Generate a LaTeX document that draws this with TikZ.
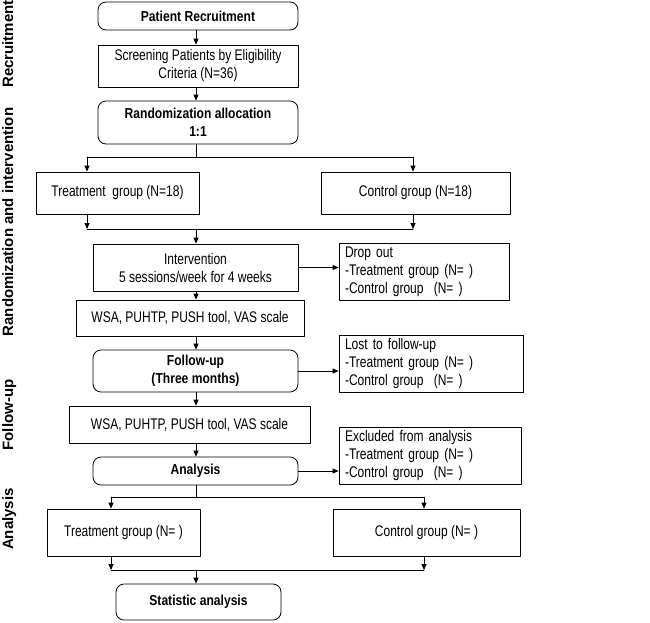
\documentclass[tikz,border=0pt]{standalone}
\usepackage{fontspec}
\setmainfont{Liberation Sans}[FakeStretch=0.78, BoldFeatures={FakeStretch=0.84}]
\newfontfamily\phasefont{Liberation Sans}
\usetikzlibrary{arrows.meta}

\begin{document}
\begin{tikzpicture}[x=1pt, y=-1pt, line cap=round, line join=round,
  every node/.style={font=\fontsize{15.4}{18}\selectfont},
  box/.style={draw, line width=0.8pt, align=center, inner sep=2pt},
  rbox/.style={box, rounded corners=8pt, font=\fontsize{14.4}{18}\selectfont\bfseries},
  sidebox/.style={draw, line width=0.8pt, align=left, inner xsep=6pt, inner ysep=2pt},
  phase/.style={rotate=90, anchor=base, font=\phasefont\fontsize{15}{18}\selectfont\bfseries},
  link/.style={line width=0.8pt},
  arr/.style={link, -{Triangle[length=6pt,width=5pt]}}]

  %========= canvas =========
  \useasboundingbox (0,0) rectangle (650,622);

  %========= phase labels =========
  \node[phase] (phRec)  at (13,44)  {Recruitment};
  \node[phase] (phRand) at (13,222) {Randomization and intervention};
  \node[phase] (phFol)  at (13,415) {Follow-up};
  \node[phase] (phAna)  at (13,519) {Analysis};

  %========= main column =========
  \node[rbox, minimum width=200pt, minimum height=28pt] (recruit) at (198,16) {Patient Recruitment};
  \node[box, minimum width=200pt, minimum height=42pt] (screen) at (198,66)
       {Screening Patients by Eligibility\\Criteria (N=36)};
  \node[rbox, minimum width=200pt, minimum height=43pt] (random) at (198,122.5)
       {Randomization allocation\\1:1};
  \node[box, minimum width=163pt, minimum height=42pt] (treatA) at (117.5,193) {Treatment\ \ group (N=18)};
  \node[box, minimum width=189pt, minimum height=42pt] (ctrlA) at (415.5,193) {Control group (N=18)};
  \node[box, minimum width=205pt, minimum height=47pt] (interv) at (195.5,267.5)
       {Intervention\\5 sessions/week for 4 weeks};
  \node[box, minimum width=228pt, minimum height=36pt] (wsaA) at (190,318) {WSA, PUHTP, PUSH tool, VAS scale};
  \node[rbox, minimum width=205pt, minimum height=42pt] (follow) at (195.5,371) {Follow-up\\(Three months)};
  \node[box, minimum width=241pt, minimum height=37pt] (wsaB) at (189.5,424.5) {WSA, PUHTP, PUSH tool, VAS scale};
  \node[rbox, minimum width=205pt, minimum height=28pt] (analysis) at (195.5,471) {Analysis};
  \node[box, minimum width=153pt, minimum height=47pt] (treatB) at (123.5,532.5) {Treatment group (N= )};
  \node[box, minimum width=187pt, minimum height=47pt] (ctrlB) at (426.5,532.5) {Control group (N= )};
  \node[rbox, minimum width=165pt, minimum height=36pt] (stat) at (198.5,602) {Statistic analysis};

  %========= side boxes =========
  \node[sidebox, text width=158pt, minimum height=57pt] (drop) at (424,271.5)
       {Drop out\\-Treatment group (N= )\\-Control group\ \ (N= )};
  \node[sidebox, text width=172pt, minimum height=57pt] (lost) at (431,363.5)
       {Lost to follow-up\\-Treatment group (N= )\\-Control group\ \ (N= )};
  \node[sidebox, text width=170pt, minimum height=57pt] (excl) at (430,455.5)
       {Excluded from analysis\\-Treatment group (N= )\\-Control group\ \ (N= )};

  %========= junction points =========
  \coordinate (spine) at (196,0);
  \coordinate (splitA) at (196,157);  \coordinate (splitAL) at (87,157);  \coordinate (splitAR) at (413,157);
  \coordinate (mergeA) at (196,229);  \coordinate (mergeAL) at (87,229);  \coordinate (mergeAR) at (413,229);
  \coordinate (splitB) at (196,497);  \coordinate (splitBL) at (111,497); \coordinate (splitBR) at (424,497);
  \coordinate (mergeB) at (196,570);  \coordinate (mergeBL) at (111,570); \coordinate (mergeBR) at (424,570);

  %========= connectors =========
  \draw[arr] (recruit.south -| spine) -- (screen.north -| spine);
  \draw[arr] (screen.south -| spine) -- (random.north -| spine);
  % split into two groups
  \draw[link] (random.south -| spine) -- (splitA);
  \draw[link] (splitAL) -- (splitAR);
  \draw[arr] (splitAL) -- (splitAL |- treatA.north);
  \draw[arr] (splitAR) -- (splitAR |- ctrlA.north);
  \draw[arr] (mergeAL |- treatA.south) -- (mergeAL);
  \draw[arr] (mergeAR |- ctrlA.south) -- (mergeAR);
  \draw[link] (mergeAL) -- (mergeAR);
  \draw[arr] (mergeA) -- (interv.north -| spine);
  \draw[arr] (interv.south -| spine) -- (wsaA.north -| spine);
  \draw[arr] (wsaA.south -| spine) -- (follow.north -| spine);
  \draw[arr] (follow.south -| spine) -- (wsaB.north -| spine);
  \draw[arr] (wsaB.south -| spine) -- (analysis.north -| spine);
  % second split
  \draw[link] (analysis.south -| spine) -- (splitB);
  \draw[link] (splitBL) -- (splitBR);
  \draw[arr] (splitBL) -- (splitBL |- treatB.north);
  \draw[arr] (splitBR) -- (splitBR |- ctrlB.north);
  \draw[arr] (mergeBL |- treatB.south) -- (mergeBL);
  \draw[arr] (mergeBR |- ctrlB.south) -- (mergeBR);
  \draw[link] (mergeBL) -- (mergeBR);
  \draw[arr] (mergeB) -- (stat.north -| spine);
  % side exits
  \draw[arr] (interv.east) -- (interv.east -| drop.west);
  \draw[arr] (follow.east) -- (follow.east -| lost.west);
  \draw[arr] (analysis.east) -- (analysis.east -| excl.west);
\end{tikzpicture}
\end{document}
